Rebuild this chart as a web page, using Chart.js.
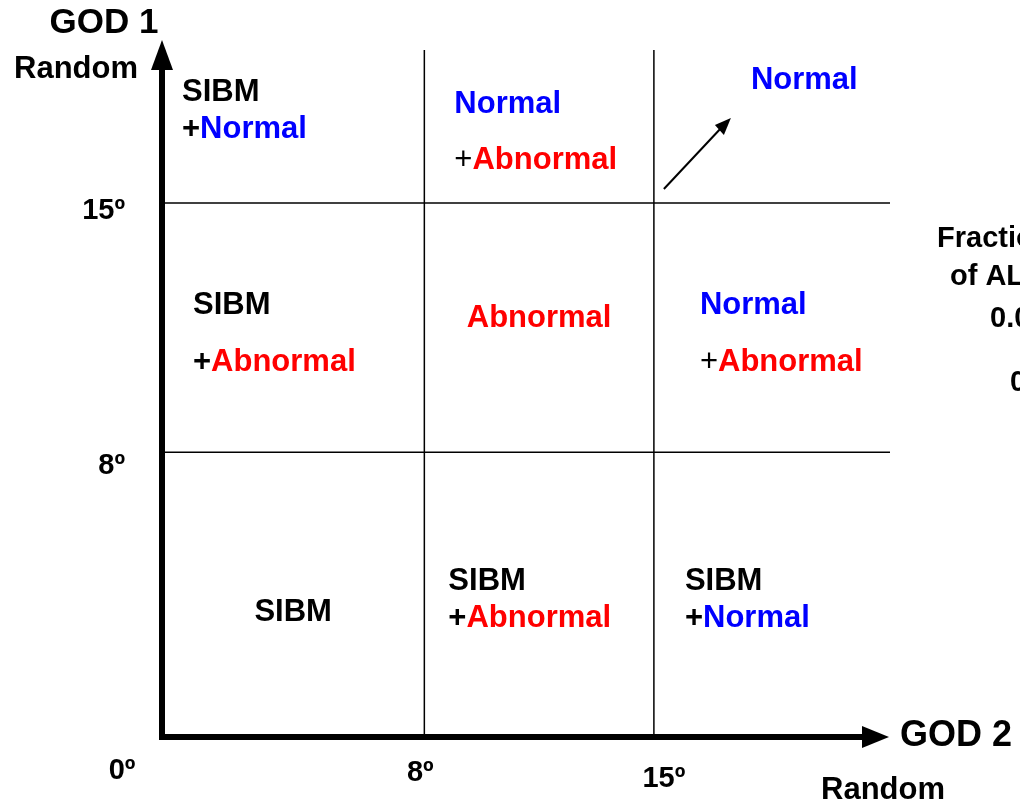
<!DOCTYPE html>
<html>
<head>
<meta charset="utf-8">
<script src="https://cdn.jsdelivr.net/npm/chart.js@4.4.1/dist/chart.umd.min.js"></script>
<style>
  html, body { margin: 0; background: #fff; }
  canvas { display: block; }
</style>
</head>
<body>
<canvas id="diagram" width="1020" height="804"></canvas>
<script>
// axis ticks (degrees)
const xTicks = [0, 8, 15];
const yTicks = [0, 8, 15];
const tickLabels = ['0º', '8º', '15º'];
const xMax = 22.2;
const yMax = 19.3;

// grid boundaries between zones
const gridX = [8, 15];
const gridY = [8, 15];

// text of each zone: col = index along GOD 2, row = index along GOD 1
// each line is a list of [text, colour key]
const zoneText = [
    { col: 0, row: 2, lines: [[['SIBM', 'k']], [['+', 'k'], ['Normal', 'b']]] },
    { col: 1, row: 2, lines: [[['Normal', 'b']], [['+', 't'], ['Abnormal', 'r']]] },
    { col: 2, row: 2, lines: [[['Normal', 'b']]] },
    { col: 0, row: 1, lines: [[['SIBM', 'k']], [['+', 'k'], ['Abnormal', 'r']]] },
    { col: 1, row: 1, lines: [[['Abnormal', 'r']]] },
    { col: 2, row: 1, lines: [[['Normal', 'b']], [['+', 't'], ['Abnormal', 'r']]] },
    { col: 0, row: 0, lines: [[['SIBM', 'k']]] },
    { col: 1, row: 0, lines: [[['SIBM', 'k']], [['+', 'k'], ['Abnormal', 'r']]] },
    { col: 2, row: 0, lines: [[['SIBM', 'k']], [['+', 'k'], ['Normal', 'b']]] }
];

const sideText = ['Fraction', 'of ALL', '0.0', '0'];

const FONT = '"Liberation Sans", Arial, sans-serif';
const colours = { k: '#000000', t: '#000000', b: '#0000ff', r: '#ff0000' };

// where text sits inside each zone (pixels from zone left / top)
const zoneLayout = {
    '02': { dx: 20, dy: [42, 79] },
    '12': { dx: 30, dy: [54, 110] },
    '22': { dx: 97, dy: [30] },
    '01': { dx: 31, dy: [102, 159] },
    '11': { center: true, dy: [115] },
    '21': { dx: 46, dy: [102, 159] },
    '00': { center: true, dy: [160] },
    '10': { dx: 24, dy: [129, 166] },
    '20': { dx: 31, dy: [129, 166] }
};

function drawLine(ctx, parts, x, y, center) {
    let total = 0;
    parts.forEach(([txt, key]) => {
        ctx.font = (key === 't' ? '' : 'bold ') + '31px ' + FONT;
        total += ctx.measureText(txt).width;
    });
    let cx = center ? x - total / 2 : x;
    parts.forEach(([txt, key]) => {
        ctx.font = (key === 't' ? '' : 'bold ') + '31px ' + FONT;
        ctx.fillStyle = colours[key];
        ctx.fillText(txt, cx, y);
        cx += ctx.measureText(txt).width;
    });
}

const diagramPlugin = {
    id: 'diagram',
    afterDatasetsDraw(chart) {
        const ctx = chart.ctx;
        const xs = chart.scales.x;
        const ys = chart.scales.y;
        const area = chart.chartArea;
        const x0 = xs.getPixelForValue(0);
        const y0 = ys.getPixelForValue(0);

        ctx.save();
        ctx.fillStyle = '#000';
        ctx.strokeStyle = '#000';

        // axes with arrow heads
        ctx.lineWidth = 6;
        ctx.beginPath();
        ctx.moveTo(x0, y0 + 3);
        ctx.lineTo(x0, area.top + 16);
        ctx.moveTo(x0 - 3, y0);
        ctx.lineTo(area.right - 24, y0);
        ctx.stroke();
        ctx.beginPath();
        ctx.moveTo(x0, area.top - 10);
        ctx.lineTo(x0 - 11, area.top + 20);
        ctx.lineTo(x0 + 11, area.top + 20);
        ctx.closePath();
        ctx.fill();
        ctx.beginPath();
        ctx.moveTo(area.right - 1, y0);
        ctx.lineTo(area.right - 28, y0 - 11);
        ctx.lineTo(area.right - 28, y0 + 11);
        ctx.closePath();
        ctx.fill();

        // tick labels
        ctx.textBaseline = 'middle';
        ctx.font = 'bold 29px ' + FONT;
        ctx.textAlign = 'center';
        const xOff = [[-40, 34], [-4, 36], [10, 42]];
        xTicks.forEach((v, i) => {
            ctx.fillText(tickLabels[i], xs.getPixelForValue(v) + xOff[i][0], y0 + xOff[i][1]);
        });
        ctx.textAlign = 'right';
        yTicks.forEach((v, i) => {
            if (i === 0) return;
            ctx.fillText(tickLabels[i], 125, ys.getPixelForValue(v) + (i === 1 ? 14 : 8));
        });

        // axis titles
        ctx.textAlign = 'center';
        ctx.font = 'bold 35px ' + FONT;
        ctx.fillText('GOD 1', 104, 23);
        ctx.textAlign = 'left';
        ctx.font = 'bold 36px ' + FONT;
        ctx.fillText('GOD 2', area.right + 10, y0 - 1);
        ctx.font = 'bold 31px ' + FONT;
        ctx.fillText('Random', 14, 69);
        ctx.fillText('Random', 821, 790);

        // zone text
        const colEdges = [0].concat(gridX, [xMax]).map(v => xs.getPixelForValue(v));
        const rowEdges = [0].concat(gridY, [yMax]).map(v => ys.getPixelForValue(v));
        zoneText.forEach(z => {
            const lay = zoneLayout['' + z.col + z.row];
            const left = colEdges[z.col], right = colEdges[z.col + 1];
            const top = rowEdges[z.row + 1];
            const x = lay.center ? (left + right) / 2 : left + lay.dx;
            z.lines.forEach((parts, i) => {
                ctx.textAlign = 'left';
                drawLine(ctx, parts, x, top + lay.dy[i], lay.center);
            });
        });

        // arrow toward the top right
        const ax = colEdges[2], ay = rowEdges[3];
        ctx.fillStyle = '#000';
        ctx.strokeStyle = '#000';
        ctx.lineWidth = 2;
        ctx.beginPath();
        ctx.moveTo(ax + 10, ay + 139);
        ctx.lineTo(ax + 70, ay + 75);
        ctx.stroke();
        ctx.beginPath();
        ctx.moveTo(ax + 77, ay + 68);
        ctx.lineTo(ax + 61, ay + 75);
        ctx.lineTo(ax + 70, ay + 85);
        ctx.closePath();
        ctx.fill();

        // cut-off text on the right edge
        ctx.font = 'bold 29px ' + FONT;
        ctx.textAlign = 'left';
        const sidePos = [[937, 239], [950, 277], [990, 319], [1010, 383]];
        sideText.forEach((t, i) => ctx.fillText(t, sidePos[i][0], sidePos[i][1]));

        ctx.restore();
    }
};

const gridDatasets = [];
gridX.forEach(v => gridDatasets.push({ data: [{ x: v, y: 0 }, { x: v, y: yMax }] }));
gridY.forEach(v => gridDatasets.push({ data: [{ x: 0, y: v }, { x: xMax, y: v }] }));
gridDatasets.forEach(d => {
    d.showLine = true;
    d.borderColor = '#000';
    d.borderWidth = 1.5;
    d.pointRadius = 0;
    d.fill = false;
});

new Chart(document.getElementById('diagram'), {
    type: 'scatter',
    data: { datasets: gridDatasets },
    options: {
        responsive: false,
        animation: false,
        layout: { padding: { left: 162, right: 130, top: 50, bottom: 67 } },
        plugins: { legend: { display: false }, tooltip: { enabled: false } },
        scales: {
            x: { type: 'linear', min: 0, max: xMax, display: false },
            y: { type: 'linear', min: 0, max: yMax, display: false }
        }
    },
    plugins: [diagramPlugin]
});
</script>
</body>
</html>
